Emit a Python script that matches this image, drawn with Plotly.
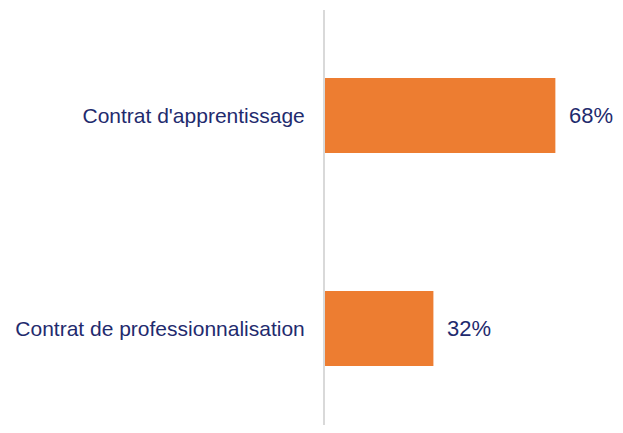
import plotly.graph_objects as go

categories = ["Contrat d'apprentissage", "Contrat de professionnalisation"]
values = [68, 32]
labels = ["68%", "32%"]

text_color = "#1F2B6E"
bar_color = "#ED7D31"

fig = go.Figure()
fig.add_trace(go.Bar(
    y=categories, x=values, orientation="h",
    marker=dict(color=bar_color, line=dict(width=0)),
    hoverinfo="skip",
))
for c, v, l in zip(categories, values, labels):
    fig.add_annotation(x=v, y=c, text=l, showarrow=False, xanchor="left",
                       xshift=12, font=dict(size=22, color=text_color,
                                            family="Liberation Sans, Arial, sans-serif"))

fig.update_layout(
    width=607, height=417,
    margin=dict(l=317, r=0, t=2, b=0),
    paper_bgcolor="white", plot_bgcolor="white",
    bargap=0.648,
    showlegend=False,
    font=dict(family="Liberation Sans, Arial, sans-serif", size=21, color=text_color),
)
fig.update_xaxes(range=[0, 85.6], visible=False, showgrid=False, zeroline=False)
fig.update_yaxes(range=[1.453, -0.495], showgrid=False, zeroline=False,
                 showline=True, linecolor="#D9D9D9", linewidth=2,
                 ticks="", ticklabelstandoff=14,
                 tickfont=dict(size=21, color=text_color))
fig.write_html("out.html")
